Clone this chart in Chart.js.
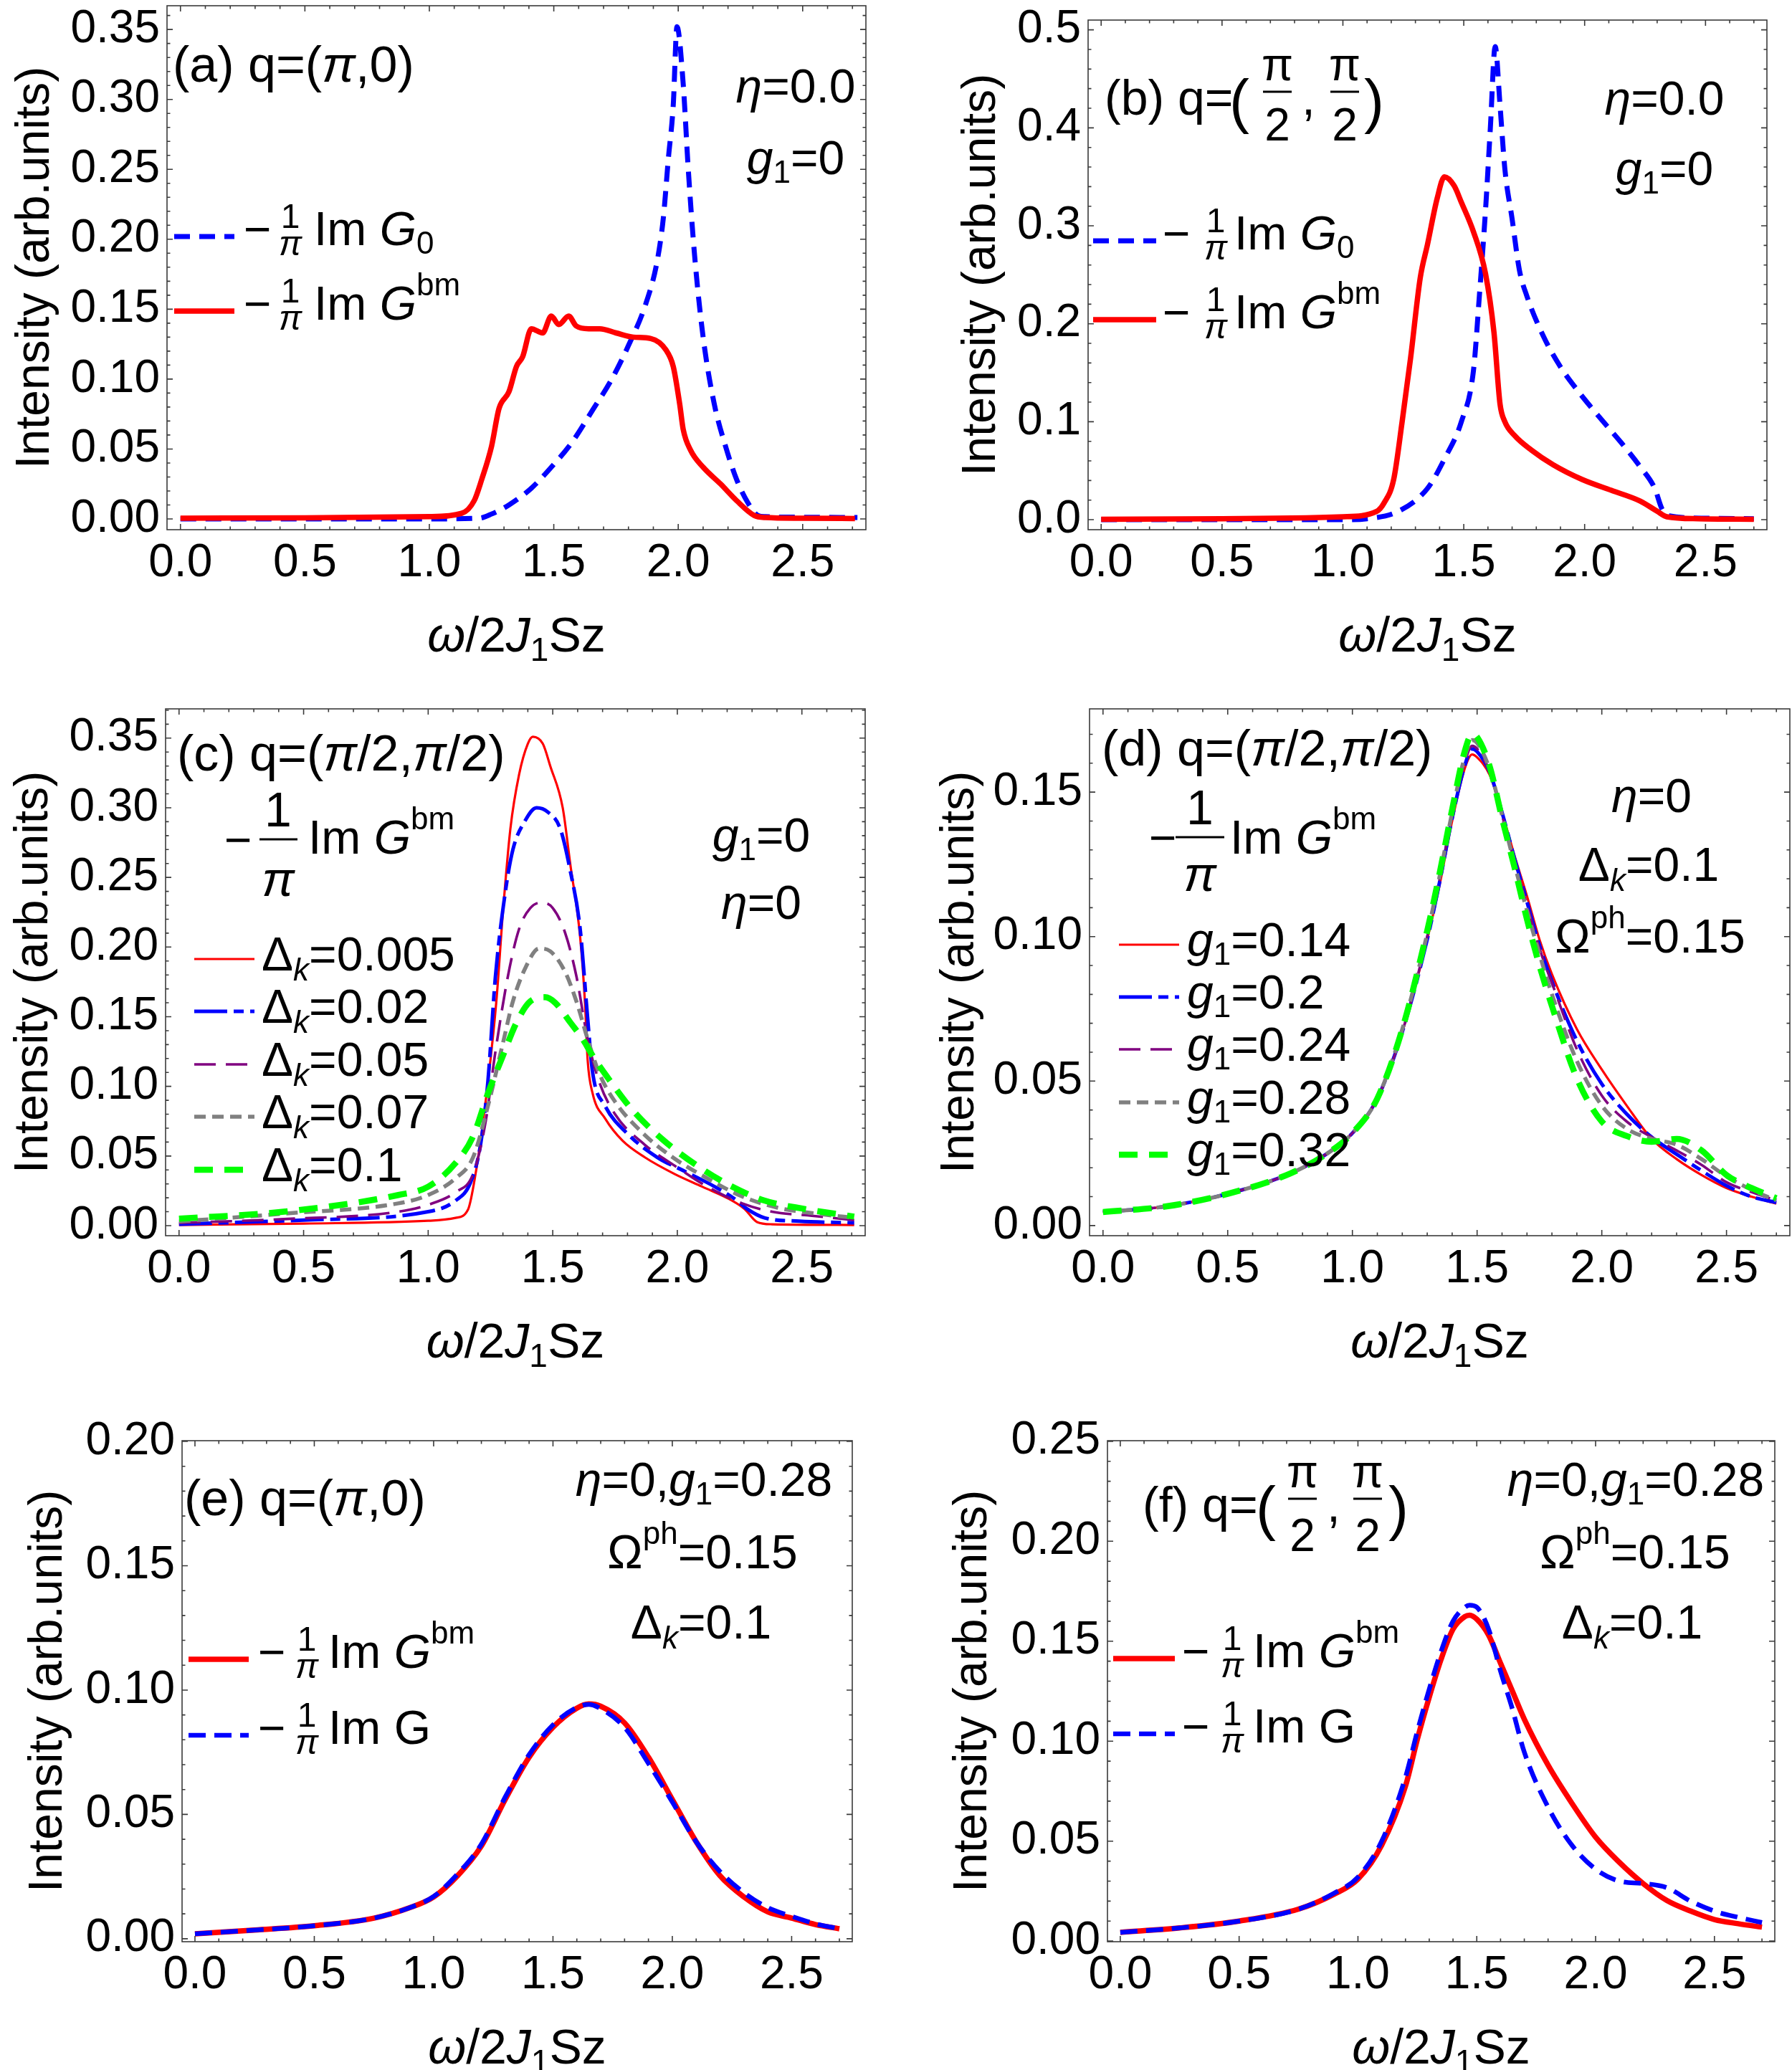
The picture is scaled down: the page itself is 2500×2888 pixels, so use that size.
<!DOCTYPE html>
<html>
<head>
<meta charset="utf-8">
<script src="https://cdn.jsdelivr.net/npm/chart.js@4.4.1/dist/chart.umd.min.js"></script>
<style>
html,body{margin:0;padding:0;background:#fff}
#fig{position:relative;width:2500px;height:2888px;overflow:hidden;background:#fff}
#fig canvas{position:absolute}
</style>
</head>
<body>
<div id="fig"></div>
<script>
/* ---------- data ---------- */
const xTickLabels=['0.0','0.5','1.0','1.5','2.0','2.5'];
const yTicksA=['0.00','0.05','0.10','0.15','0.20','0.25','0.30','0.35'];
const yTicksB=['0.0','0.1','0.2','0.3','0.4','0.5'];
const yTicksC=['0.00','0.05','0.10','0.15','0.20','0.25','0.30','0.35'];
const yTicksD=['0.00','0.05','0.10','0.15'];
const yTicksE=['0.00','0.05','0.10','0.15','0.20'];
const yTicksF=['0.00','0.05','0.10','0.15','0.20','0.25'];

// (a) q=(pi,0)
const aX_G0=[0,0.5,1.0,1.2,1.25,1.32,1.41,1.5,1.57,1.66,1.73,1.8,1.87,1.915,1.94,1.96,1.98,1.995,2.02,2.04,2.065,2.1,2.145,2.19,2.235,2.28,2.32,2.35,2.5,2.72];
const aY_G0=[0,0,0,0.0005,0.0035,0.010,0.022,0.039,0.054,0.079,0.099,0.124,0.154,0.184,0.215,0.257,0.296,0.352,0.311,0.251,0.19,0.13,0.082,0.052,0.028,0.0115,0.0025,0.0016,0.0012,0.001];
const aX_Gbm=[0,0.5,1.0,1.13,1.18,1.21,1.25,1.28,1.32,1.35,1.375,1.41,1.455,1.49,1.52,1.56,1.59,1.64,1.685,1.75,1.82,1.89,1.95,1.98,2.006,2.02,2.05,2.1,2.17,2.235,2.305,2.35,2.49,2.71];
const aY_Gbm=[0.0005,0.0008,0.0016,0.004,0.013,0.028,0.052,0.079,0.091,0.109,0.116,0.136,0.133,0.145,0.139,0.145,0.138,0.136,0.136,0.133,0.130,0.129,0.121,0.109,0.082,0.064,0.049,0.037,0.025,0.013,0.0025,0.001,0.0005,0.0003];

// (b) q=(pi/2,pi/2)
const bX_G0=[0,0.5,1.0,1.1,1.23,1.35,1.42,1.49,1.54,1.565,1.59,1.61,1.63,1.65,1.67,1.70,1.73,1.76,1.83,1.90,1.98,2.06,2.15,2.23,2.29,2.32,2.35,2.5,2.70];
const bY_G0=[0,0,0,0.001,0.0086,0.032,0.062,0.10,0.152,0.23,0.316,0.40,0.483,0.423,0.358,0.307,0.255,0.229,0.187,0.156,0.129,0.105,0.079,0.054,0.032,0.011,0.004,0.0015,0.001];
const bX_Gbm=[0,0.5,1.0,1.14,1.17,1.21,1.245,1.28,1.32,1.35,1.39,1.42,1.46,1.49,1.54,1.59,1.625,1.65,1.67,1.71,1.78,1.87,1.99,2.11,2.23,2.30,2.34,2.47,2.70];
const bY_Gbm=[0.0005,0.001,0.003,0.0086,0.017,0.041,0.10,0.165,0.247,0.281,0.328,0.35,0.341,0.324,0.294,0.251,0.191,0.118,0.10,0.086,0.071,0.056,0.041,0.030,0.019,0.0086,0.003,0.001,0.0005];

// (c) Delta_k series
const cDeltaLabels=['0.005','0.02','0.05','0.07','0.1'];
const cX_d005=[0,0.5,1.0,1.11,1.16,1.19,1.22,1.25,1.275,1.30,1.33,1.365,1.40,1.42,1.46,1.49,1.54,1.57,1.61,1.63,1.64,1.66,1.71,1.78,1.87,1.99,2.10,2.22,2.27,2.32,2.38,2.71];
const cY_d005=[0.0005,0.0015,0.0035,0.0056,0.0116,0.037,0.074,0.119,0.164,0.225,0.285,0.324,0.346,0.351,0.346,0.33,0.30,0.26,0.207,0.158,0.119,0.095,0.077,0.061,0.049,0.037,0.028,0.018,0.012,0.0026,0.001,0.0005];
const cX_d02=[0,0.5,1.0,1.11,1.17,1.21,1.24,1.27,1.31,1.34,1.39,1.435,1.48,1.53,1.57,1.61,1.64,1.66,1.71,1.80,1.92,2.03,2.15,2.24,2.28,2.35,2.49,2.71];
const cY_d02=[0.001,0.004,0.010,0.018,0.031,0.058,0.104,0.179,0.24,0.27,0.291,0.30,0.297,0.285,0.255,0.213,0.149,0.11,0.086,0.066,0.049,0.039,0.028,0.018,0.012,0.0056,0.0032,0.002];
const cX_d05=[0,0.42,0.88,1.0,1.11,1.18,1.23,1.27,1.32,1.365,1.41,1.455,1.50,1.55,1.595,1.64,1.685,1.75,1.87,1.99,2.12,2.26,2.38,2.54,2.71];
const cY_d05=[0.002,0.0047,0.010,0.015,0.024,0.037,0.074,0.125,0.179,0.213,0.228,0.232,0.228,0.21,0.179,0.134,0.104,0.080,0.058,0.043,0.028,0.016,0.010,0.0071,0.004];
const cX_d07=[0,0.42,0.88,1.0,1.11,1.18,1.24,1.30,1.34,1.39,1.445,1.49,1.55,1.595,1.64,1.685,1.75,1.87,1.99,2.12,2.26,2.40,2.56,2.71];
const cY_d07=[0.003,0.0086,0.016,0.022,0.034,0.049,0.086,0.131,0.161,0.185,0.199,0.197,0.182,0.161,0.134,0.11,0.089,0.065,0.048,0.034,0.021,0.013,0.0086,0.0056];
const cX_d1=[0,0.42,0.88,1.0,1.11,1.18,1.24,1.30,1.355,1.41,1.47,1.51,1.57,1.62,1.66,1.73,1.82,1.94,2.08,2.22,2.35,2.51,2.71];
const cY_d1=[0.005,0.010,0.022,0.028,0.045,0.064,0.095,0.122,0.146,0.161,0.164,0.16,0.146,0.134,0.122,0.104,0.083,0.062,0.043,0.028,0.018,0.012,0.0065];

// (d) g1 series
const dG1Labels=['0.14','0.2','0.24','0.28','0.32'];
const dX=[0,0.25,0.5,0.75,0.9,1.0,1.1,1.2,1.3,1.35,1.4,1.45,1.48,1.5,1.55,1.6,1.65,1.7,1.75,1.8,1.9,2.0,2.1,2.2,2.3,2.4,2.5,2.6,2.7];
const dY_g014=[0.0047,0.0066,0.011,0.018,0.025,0.032,0.044,0.067,0.099,0.118,0.140,0.158,0.163,0.162,0.156,0.143,0.128,0.114,0.099,0.087,0.068,0.054,0.0415,0.030,0.023,0.0175,0.013,0.010,0.0076];
const dY_g02=[0.0047,0.0066,0.011,0.018,0.025,0.032,0.044,0.067,0.099,0.119,0.141,0.159,0.165,0.164,0.157,0.143,0.127,0.112,0.097,0.0845,0.064,0.049,0.0386,0.0306,0.0247,0.019,0.0138,0.010,0.008];
const dY_g024=[0.0047,0.0066,0.011,0.018,0.025,0.032,0.044,0.067,0.1,0.12,0.142,0.160,0.166,0.165,0.157,0.142,0.126,0.111,0.096,0.084,0.061,0.045,0.036,0.0306,0.026,0.021,0.015,0.0116,0.0087];
const dY_g028=[0.0047,0.0066,0.011,0.018,0.025,0.032,0.044,0.068,0.101,0.121,0.143,0.162,0.168,0.167,0.158,0.142,0.125,0.109,0.094,0.080,0.057,0.0415,0.0335,0.030,0.028,0.023,0.017,0.0124,0.0087];
const dY_g032=[0.0047,0.0066,0.011,0.018,0.025,0.032,0.044,0.068,0.102,0.122,0.144,0.164,0.170,0.169,0.159,0.141,0.124,0.106,0.090,0.076,0.051,0.036,0.031,0.029,0.030,0.026,0.0175,0.013,0.0095];

// (e) q=(pi,0), phonon
const eX=[0,0.25,0.5,0.75,0.9,1.0,1.1,1.2,1.3,1.4,1.5,1.6,1.65,1.7,1.8,1.9,2.0,2.1,2.2,2.3,2.4,2.5,2.6,2.7];
const eY_Gbm=[0.002,0.0035,0.0052,0.0083,0.0125,0.0168,0.0253,0.0373,0.056,0.073,0.085,0.0927,0.0944,0.0935,0.0868,0.073,0.056,0.039,0.0253,0.0168,0.0108,0.0083,0.0057,0.004];
const eY_G=[0.002,0.0035,0.0052,0.0083,0.0125,0.017,0.026,0.038,0.057,0.074,0.086,0.093,0.0942,0.0925,0.085,0.0705,0.055,0.039,0.027,0.0185,0.0125,0.009,0.006,0.004];

// (f) q=(pi/2,pi/2), phonon
const fX=[0,0.25,0.5,0.75,0.9,1.0,1.1,1.2,1.25,1.3,1.35,1.4,1.45,1.47,1.5,1.55,1.6,1.65,1.7,1.8,1.9,2.0,2.1,2.2,2.3,2.4,2.5,2.6,2.7];
const fY_Gbm=[0.0044,0.0066,0.010,0.016,0.0235,0.031,0.048,0.0775,0.101,0.122,0.141,0.156,0.1623,0.163,0.161,0.153,0.139,0.125,0.111,0.088,0.069,0.052,0.0394,0.0288,0.0203,0.015,0.0108,0.0087,0.007];
const fY_G=[0.0044,0.0066,0.010,0.016,0.024,0.032,0.050,0.082,0.105,0.126,0.145,0.160,0.167,0.168,0.167,0.156,0.135,0.116,0.0945,0.067,0.048,0.036,0.030,0.0288,0.0267,0.020,0.015,0.0119,0.0093];

/* ---------- styling ---------- */
const FONT='"Liberation Sans", Arial, Helvetica, sans-serif';
const X_MIN=-0.054, X_MAX=2.754;
const RED='#ff0000', BLUE='#0000ff', PURPLE='#800080', GRAY='#808080', GREEN='#00ff00';
const MAJ=8, MIN=4.5;

const thickRed={color:RED,w:7.5,dash:[]};
const thickBlue={color:BLUE,w:7,dash:[22,13]};
const phBlue={color:BLUE,w:6.5,dash:[24,12]};
const thinSet=[
  {color:RED,w:3.2,dash:[]},
  {color:BLUE,w:5,dash:[46,9,14,9]},
  {color:PURPLE,w:3.6,dash:[30,14]},
  {color:GRAY,w:5.5,dash:[16,9]},
  {color:GREEN,w:8.5,dash:[26,16]}
];

function pts(xs,ys){return xs.map(function(x,i){return {x:x,y:ys[i]}});}
function fnt(s,it){return (it?'italic ':'')+s+'px '+FONT;}

// parts: [text, size, italic, dy]
function rich(ctx,x,y,parts,align){
  let w=0;
  const ws=parts.map(function(p){ctx.font=fnt(p[1]||66,p[2]);const m=ctx.measureText(p[0]).width;w+=m;return m;});
  let cx=align==='center'?x-w/2:(align==='right'?x-w:x);
  ctx.textAlign='left';ctx.textBaseline='alphabetic';ctx.fillStyle='#000';
  parts.forEach(function(p,i){ctx.font=fnt(p[1]||66,p[2]);ctx.fillText(p[0],cx,y+(p[3]||0));cx+=ws[i];});
}
function stack(ctx,cx,top,bot,yTop,yBot,size,it,bar){
  ctx.textAlign='center';ctx.textBaseline='alphabetic';ctx.fillStyle='#000';
  ctx.font=fnt(size,false);ctx.fillText(top,cx,yTop);
  ctx.font=fnt(size,it);ctx.fillText(bot,cx,yBot);
  if(bar){ctx.fillRect(bar[0],bar[2]-1.5,bar[1]-bar[0],3);}
}
function sample(ctx,x1,x2,y,s){
  ctx.save();ctx.strokeStyle=s.color;ctx.lineWidth=s.w;ctx.setLineDash(s.dash);ctx.lineCap='butt';
  ctx.beginPath();ctx.moveTo(x1,y);ctx.lineTo(x2,y);ctx.stroke();ctx.restore();
}
// small "-(1/pi) Im ..." legend label
function smallLabel(ctx,xMinus,xFrac,xText,base,tail){
  rich(ctx,xMinus,base,[['\u2212',66]]);
  stack(ctx,xFrac,'1','\u03c0',base-24,base+14,48,true,null);
  rich(ctx,xText,base,tail);
}
const G0tail=[['Im '],['G',66,true],['0',44,false,12]];
const Gbmtail=[['Im '],['G',66,true],['bm',44,false,-34]];
const Gtail=[['Im G']];
const g1eq=function(v){return [['g',66,true],['1',44,false,12],['='+v]];};
const dkEq=function(v){return [['\u0394'],['k',44,true,14],['='+v]];};
const omEq=function(v){return [['\u03a9'],['ph',44,false,-34],['='+v]];};
const etaEq=function(v){return [['\u03b7',66,true],['='+v]];};
const xTitle=[['\u03c9',68,true],['/2',68],['J',68,true],['1',46,false,13],['Sz',68]];

/* ---------- panels ---------- */
const panels=[
 {id:'a',box:[0,0,1250,963],frame:[233,8,1208,739],y:[-0.0077,0.367],yTicks:yTicksA,yMinor:0.01,yTitleX:50,xTitleY:885,
  series:[{x:aX_G0,y:aY_G0,s:thickBlue},{x:aX_Gbm,y:aY_Gbm,s:thickRed}],
  draw:function(ctx){
    rich(ctx,241,114,[['(a) q=(',70],['\u03c0',70,true],[',0)',70]]);
    rich(ctx,1110,143,etaEq('0.0'),'center');
    rich(ctx,1110,243,g1eq('0'),'center');
    sample(ctx,243,327,330,thickBlue);smallLabel(ctx,340,405,438,342,G0tail);
    sample(ctx,243,327,434,thickRed);smallLabel(ctx,340,405,438,446,Gbmtail);
  }},
 {id:'b',box:[1250,0,1250,963],frame:[1518,28,2465,739],y:[-0.0102,0.51],yTicks:yTicksB,yMinor:0.02,yTitleX:1370,xTitleY:885,
  series:[{x:bX_G0,y:bY_G0,s:thickBlue},{x:bX_Gbm,y:bY_Gbm,s:thickRed}],
  draw:function(ctx){
    rich(ctx,1541,160,[['(b) q=',68]]);
    rich(ctx,1715,170,[['(',84]]);
    stack(ctx,1782,'\u03c0','2',112,196,64,false,[1762,1802,128]);
    rich(ctx,1816,160,[[',',68]]);
    stack(ctx,1876,'\u03c0','2',112,196,64,false,[1856,1896,128]);
    rich(ctx,1903,170,[[')',84]]);
    rich(ctx,2322,160,etaEq('0.0'),'center');
    rich(ctx,2322,258,g1eq('0'),'center');
    sample(ctx,1525,1613,336,thickBlue);smallLabel(ctx,1622,1696,1722,348,G0tail);
    sample(ctx,1525,1613,446,thickRed);smallLabel(ctx,1622,1696,1722,458,Gbmtail);
  }},
 {id:'c',box:[0,963,1250,962],frame:[231,989,1207,1724],y:[-0.0072,0.371],yTicks:yTicksC,yMinor:0.01,yTitleX:48,xTitleY:1870,
  series:[{x:cX_d005,y:cY_d005,s:thinSet[0]},{x:cX_d02,y:cY_d02,s:thinSet[1]},{x:cX_d05,y:cY_d05,s:thinSet[2]},{x:cX_d07,y:cY_d07,s:thinSet[3]},{x:cX_d1,y:cY_d1,s:thinSet[4]}],
  draw:function(ctx){
    rich(ctx,247,1075,[['(c) q=(',70],['\u03c0',70,true],['/2,',70],['\u03c0',70,true],['/2)',70]]);
    rich(ctx,313,1194,[['\u2212',66]]);
    stack(ctx,388,'1','\u03c0',1153,1250,68,true,[362,415,1171]);
    rich(ctx,430,1191,Gbmtail);
    const ys=[1338,1411,1485,1558,1632];
    cDeltaLabels.forEach(function(v,i){sample(ctx,271,355,ys[i],thinSet[i]);rich(ctx,365,ys[i]+16,dkEq(v));});
    rich(ctx,1062,1188,g1eq('0'),'center');
    rich(ctx,1062,1282,etaEq('0'),'center');
  }},
 {id:'d',box:[1250,963,1250,962],frame:[1520,989,2497,1724],y:[-0.0035,0.1788],yTicks:yTicksD,yMinor:0.01,yTitleX:1340,xTitleY:1870,
  series:[{x:dX,y:dY_g014,s:thinSet[0]},{x:dX,y:dY_g02,s:thinSet[1]},{x:dX,y:dY_g024,s:thinSet[2]},{x:dX,y:dY_g028,s:thinSet[3]},{x:dX,y:dY_g032,s:thinSet[4]}],
  draw:function(ctx){
    rich(ctx,1537,1068,[['(d) q=(',70],['\u03c0',70,true],['/2,',70],['\u03c0',70,true],['/2)',70]]);
    rich(ctx,1603,1191,[['\u2212',66]]);
    stack(ctx,1674,'1','\u03c0',1150,1243,68,true,[1640,1708,1168]);
    rich(ctx,1716,1191,Gbmtail);
    const ys=[1318,1391,1464,1538,1611];
    dG1Labels.forEach(function(v,i){sample(ctx,1561,1645,ys[i],thinSet[i]);rich(ctx,1656,ys[i]+16,g1eq(v));});
    rich(ctx,2304,1133,etaEq('0'),'center');
    rich(ctx,2300,1229,dkEq('0.1'),'center');
    rich(ctx,2302,1329,omEq('0.15'),'center');
  }},
 {id:'e',box:[0,1925,1250,963],frame:[254,2010,1189,2709],y:[-0.0012,0.2003],yTicks:yTicksE,yMinor:0.01,yTitleX:68,xTitleY:2855,
  series:[{x:eX,y:eY_Gbm,s:thickRed},{x:eX,y:eY_G,s:phBlue}],
  draw:function(ctx){
    rich(ctx,257,2114,[['(e) q=(',70],['\u03c0',70,true],[',0)',70]]);
    rich(ctx,982,2087,[['\u03b7',66,true],['=0,'],['g',66,true],['1',44,false,12],['=0.28']],'center');
    rich(ctx,980,2188,omEq('0.15'),'center');
    rich(ctx,978,2286,dkEq('0.1'),'center');
    sample(ctx,263,347,2315,thickRed);smallLabel(ctx,360,428,458,2327,Gbmtail);
    sample(ctx,263,347,2421,phBlue);smallLabel(ctx,360,428,458,2433,Gtail);
  }},
 {id:'f',box:[1250,1925,1250,963],frame:[1545,2010,2476,2709],y:[-0.0003,0.2503],yTicks:yTicksF,yMinor:0.01,yTitleX:1358,xTitleY:2855,
  series:[{x:fX,y:fY_Gbm,s:thickRed},{x:fX,y:fY_G,s:phBlue}],
  draw:function(ctx){
    rich(ctx,1594,2123,[['(f) q=',68]]);
    rich(ctx,1752,2133,[['(',84]]);
    stack(ctx,1817,'\u03c0','2',2075,2164,64,false,[1797,1837,2091]);
    rich(ctx,1851,2123,[[',',68]]);
    stack(ctx,1908,'\u03c0','2',2075,2164,64,false,[1888,1928,2091]);
    rich(ctx,1937,2133,[[')',84]]);
    rich(ctx,2282,2087,[['\u03b7',66,true],['=0,'],['g',66,true],['1',44,false,12],['=0.28']],'center');
    rich(ctx,2281,2188,omEq('0.15'),'center');
    rich(ctx,2277,2286,dkEq('0.1'),'center');
    sample(ctx,1553,1639,2314,thickRed);smallLabel(ctx,1649,1719,1748,2326,Gbmtail);
    sample(ctx,1553,1639,2419,phBlue);smallLabel(ctx,1649,1719,1748,2431,Gtail);
  }}
];

function frameTicks(p){
  return {id:'frame_'+p.id,afterDraw:function(chart){
    const ctx=chart.ctx,a=chart.chartArea,xs=chart.scales.x,ys=chart.scales.y;
    ctx.save();
    ctx.strokeStyle='#3a3a3a';ctx.lineWidth=1.6;ctx.setLineDash([]);
    ctx.strokeRect(a.left,a.top,a.right-a.left,a.bottom-a.top);
    ctx.beginPath();
    for(let k=0;k<=27;k++){
      const px=xs.getPixelForValue(k/10),L=(k%5===0)?MAJ:MIN;
      ctx.moveTo(px,a.bottom);ctx.lineTo(px,a.bottom-L);
      ctx.moveTo(px,a.top);ctx.lineTo(px,a.top+L);
    }
    const n=Math.floor(p.y[1]/p.yMinor+1e-6);
    for(let k=0;k<=n;k++){
      const py=ys.getPixelForValue(k*p.yMinor),L=(k%5===0)?MAJ:MIN;
      ctx.moveTo(a.left,py);ctx.lineTo(a.left+L,py);
      ctx.moveTo(a.right,py);ctx.lineTo(a.right-L,py);
    }
    ctx.stroke();ctx.restore();
    ctx.save();ctx.translate(-p.box[0],-p.box[1]);
    rich(ctx,(p.frame[0]+p.frame[2])/2,p.xTitleY+24,xTitle,'center');
    p.draw(ctx);ctx.restore();
  }};
}

function makePanel(p){
  const cx=p.box[0],cy=p.box[1],cw=p.box[2],ch=p.box[3];
  const l=p.frame[0],t=p.frame[1],r=p.frame[2],b=p.frame[3];
  const cv=document.createElement('canvas');
  cv.width=cw;cv.height=ch;
  cv.style.left=cx+'px';cv.style.top=cy+'px';cv.style.width=cw+'px';cv.style.height=ch+'px';
  document.getElementById('fig').appendChild(cv);
  const tickFont={family:FONT,size:64,lineHeight:1};
  new Chart(cv,{
    type:'line',
    data:{datasets:p.series.map(function(s,i){return {
      data:pts(s.x,s.y),borderColor:s.s.color,borderWidth:s.s.w,borderDash:s.s.dash,
      borderCapStyle:'butt',borderJoinStyle:'round',pointRadius:0,fill:false,
      tension:0.4,cubicInterpolationMode:'monotone',order:-i};})},
    options:{
      responsive:false,animation:false,devicePixelRatio:1,
      layout:{padding:{left:0,top:t-cy,right:cx+cw-r,bottom:0}},
      plugins:{legend:{display:false},tooltip:{enabled:false}},
      scales:{
        x:{type:'linear',min:X_MIN,max:X_MAX,
          grid:{display:false,drawTicks:false},border:{display:false},
          ticks:{font:tickFont,color:'#000',padding:15,autoSkip:false,maxRotation:0,minRotation:0,
            callback:function(v,i){return xTickLabels[i];}},
          afterBuildTicks:function(s){s.ticks=xTickLabels.map(function(v){return {value:parseFloat(v)};});},
          afterFit:function(s){s.height=cy+ch-b;s.paddingLeft=0;s.paddingRight=0;},
          title:{display:false}},
        y:{type:'linear',min:p.y[0],max:p.y[1],
          grid:{display:false,drawTicks:false},border:{display:false},
          ticks:{font:tickFont,color:'#000',padding:10,autoSkip:false,
            callback:function(v,i){return p.yTicks[i];}},
          afterBuildTicks:function(s){s.ticks=p.yTicks.map(function(v){return {value:parseFloat(v)};});},
          afterFit:function(s){s.width=l-cx;s.paddingTop=0;s.paddingBottom=0;},
          title:{display:true,text:'Intensity (arb.units)',color:'#000',font:{family:FONT,size:66,lineHeight:1},
            padding:{top:p.yTitleX-cx-33,bottom:0}}}
      }
    },
    plugins:[frameTicks(p)]
  });
}

panels.forEach(makePanel);
</script>
</body>
</html>
